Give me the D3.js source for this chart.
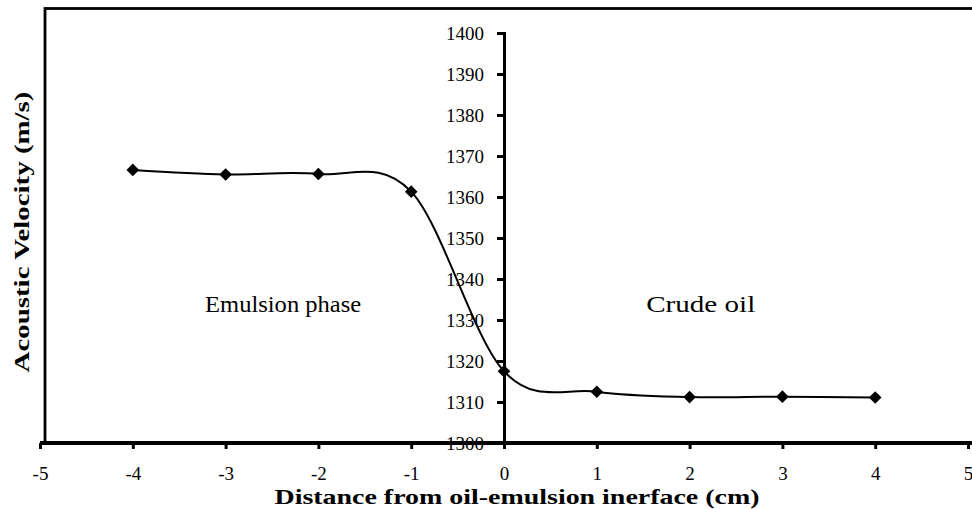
<!DOCTYPE html>
<html>
<head>
<meta charset="utf-8">
<script src="https://cdn.jsdelivr.net/npm/d3@7"></script>
<style>
  body { margin: 0; background: #fff; }
  svg text { font-family: 'Liberation Serif', 'Times New Roman', serif; }
</style>
</head>
<body>
<div id="chart"></div>
<script>
// data
const distances = [-4, -3, -2, -1, 0, 1, 2, 3, 4];
const velocities = [1366.6, 1365.5, 1365.6, 1361.3, 1317.5, 1312.5, 1311.2, 1311.3, 1311.1];
const xTicks = [-5, -4, -3, -2, -1, 0, 1, 2, 3, 4, 5];
const yTicks = [1300, 1310, 1320, 1330, 1340, 1350, 1360, 1370, 1380, 1390, 1400];
const notes = [
  {label: 'Emulsion phase', x: -2.38, y: 1332, len: 156},
  {label: 'Crude oil', x: 2.12, y: 1332, len: 109}
];

const width = 972;
const height = 509;

const x = d3.scaleLinear().domain([-5, 5]).range([40, 968]);
const y = d3.scaleLinear().domain([1300, 1400]).range([443, 33]);

const svg = d3.select('#chart').append('svg')
  .attr('width', width)
  .attr('height', height);

// outer frame, its right side runs off the picture
svg.append('rect')
  .attr('x', 45)
  .attr('y', 8.5)
  .attr('width', 940)
  .attr('height', 434)
  .attr('fill', 'none')
  .attr('stroke', '#000')
  .attr('stroke-width', 2.8);

// x axis sits on 1300
const xAxis = svg.append('g')
  .attr('transform', `translate(0,${y(1300)})`)
  .call(d3.axisBottom(x).tickValues(xTicks).tickSize(6).tickPadding(18).tickFormat(d => String(d)));
xAxis.select('.domain').attr('stroke-width', 4).attr('d', `M${x(-5)},0H${width}`);
xAxis.selectAll('.tick line').attr('stroke-width', 3);
xAxis.selectAll('text').attr('font-size', 19);

// y axis sits on x = 0
const yAxis = svg.append('g')
  .attr('transform', `translate(${x(0)},0)`)
  .call(d3.axisLeft(y).tickValues(yTicks).tickSize(7).tickPadding(13).tickFormat(d => String(d)));
yAxis.select('.domain').attr('stroke-width', 3);
yAxis.selectAll('.tick line').attr('stroke-width', 3);
yAxis.selectAll('text').attr('font-size', 19);
svg.selectAll('g').attr('font-family', null);

// smoothed line like Excel's
const line = d3.line()
  .x((d, i) => x(distances[i]))
  .y(d => y(d))
  .curve(d3.curveCardinal.tension(0));

svg.append('path')
  .datum(velocities)
  .attr('d', line)
  .attr('fill', 'none')
  .attr('stroke', '#000')
  .attr('stroke-width', 2);

svg.selectAll('path.marker')
  .data(velocities)
  .join('path')
  .attr('class', 'marker')
  .attr('d', d3.symbol(d3.symbolSquare, 80))
  .attr('transform', (d, i) => `translate(${x(distances[i])},${y(d)}) rotate(45)`)
  .attr('fill', '#000');

// region labels
svg.selectAll('text.note')
  .data(notes)
  .join('text')
  .attr('class', 'note')
  .attr('x', d => x(d.x))
  .attr('y', d => y(d.y))
  .attr('text-anchor', 'middle')
  .attr('font-size', 24)
  .attr('textLength', d => d.len)
  .attr('lengthAdjust', 'spacingAndGlyphs')
  .text(d => d.label);

// axis titles
svg.append('text')
  .attr('x', 517)
  .attr('y', 504)
  .attr('text-anchor', 'middle')
  .attr('font-weight', 'bold')
  .attr('font-size', 22)
  .attr('textLength', 485)
  .attr('lengthAdjust', 'spacingAndGlyphs')
  .text('Distance from oil-emulsion inerface (cm)');

svg.append('text')
  .attr('transform', 'translate(29,232) rotate(-90)')
  .attr('text-anchor', 'middle')
  .attr('font-weight', 'bold')
  .attr('font-size', 22)
  .attr('textLength', 281)
  .attr('lengthAdjust', 'spacingAndGlyphs')
  .text('Acoustic Velocity (m/s)');
</script>
</body>
</html>
